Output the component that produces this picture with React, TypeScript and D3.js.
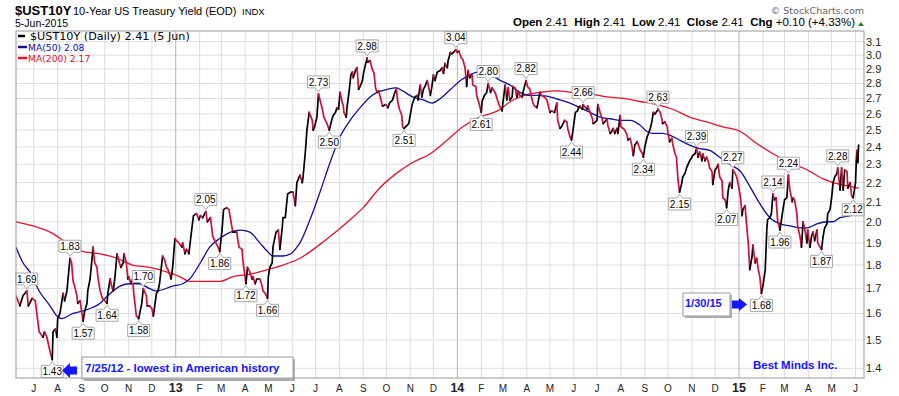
import React from "react";
import * as d3 from "d3";

const W = 899;
const H = 396;
const PL = 16, PT = 31, PR = 864, PB = 378;

// ---------------- data ----------------
const priceSeries: [string, number][] = [
["2012-06-08",1.67],["2012-06-13",1.63],["2012-06-17",1.67],["2012-06-22",1.69],["2012-06-24",1.63],["2012-06-29",1.66],
["2012-07-03",1.65],["2012-07-05",1.60],["2012-07-08",1.53],["2012-07-13",1.51],["2012-07-15",1.53],["2012-07-18",1.51],["2012-07-22",1.46],["2012-07-25",1.43],["2012-07-26",1.53],["2012-07-29",1.54],["2012-07-31",1.51],
["2012-08-01",1.58],["2012-08-04",1.60],["2012-08-08",1.68],["2012-08-10",1.65],["2012-08-13",1.69],["2012-08-17",1.83],["2012-08-19",1.81],["2012-08-21",1.73],["2012-08-23",1.71],["2012-08-26",1.67],["2012-08-27",1.64],["2012-08-30",1.65],
["2012-09-03",1.57],["2012-09-05",1.61],["2012-09-08",1.64],["2012-09-09",1.69],["2012-09-12",1.74],["2012-09-16",1.88],["2012-09-18",1.81],["2012-09-21",1.79],["2012-09-22",1.75],["2012-09-25",1.69],["2012-09-28",1.66],
["2012-10-01",1.65],["2012-10-04",1.64],["2012-10-05",1.68],["2012-10-08",1.74],["2012-10-10",1.71],["2012-10-12",1.69],["2012-10-14",1.74],["2012-10-17",1.85],["2012-10-20",1.81],["2012-10-22",1.79],["2012-10-25",1.81],["2012-10-26",1.85],["2012-10-29",1.81],["2012-10-31",1.74],
["2012-11-01",1.75],["2012-11-04",1.72],["2012-11-06",1.74],["2012-11-08",1.67],["2012-11-11",1.59],["2012-11-14",1.58],["2012-11-18",1.64],["2012-11-20",1.70],["2012-11-24",1.67],["2012-11-25",1.63],["2012-11-28",1.63],
["2012-12-01",1.62],["2012-12-03",1.59],["2012-12-07",1.68],["2012-12-09",1.69],["2012-12-11",1.72],["2012-12-15",1.84],["2012-12-18",1.82],["2012-12-20",1.79],["2012-12-22",1.78],["2012-12-26",1.74],["2012-12-28",1.79],["2012-12-31",1.92],
["2013-01-02",1.91],["2013-01-05",1.90],["2013-01-09",1.88],["2013-01-10",1.90],["2013-01-13",1.85],["2013-01-15",1.87],["2013-01-18",1.85],["2013-01-22",1.97],["2013-01-24",2.03],["2013-01-28",2.04],["2013-01-31",2.01],
["2013-02-02",2.03],["2013-02-05",2.02],["2013-02-09",2.05],["2013-02-11",2.00],["2013-02-15",2.02],["2013-02-18",1.93],["2013-02-22",1.90],["2013-02-25",1.88],["2013-02-27",1.86],
["2013-03-02",1.96],["2013-03-04",2.06],["2013-03-08",2.07],["2013-03-11",2.06],["2013-03-15",1.97],["2013-03-16",1.95],["2013-03-21",1.95],["2013-03-24",1.88],["2013-03-28",1.87],["2013-03-29",1.82],
["2013-04-02",1.72],["2013-04-04",1.79],["2013-04-07",1.77],["2013-04-10",1.74],["2013-04-11",1.75],["2013-04-14",1.72],["2013-04-16",1.74],["2013-04-20",1.74],["2013-04-23",1.71],["2013-04-24",1.69],["2013-04-27",1.68],["2013-04-30",1.66],
["2013-05-01",1.75],["2013-05-03",1.79],["2013-05-06",1.81],["2013-05-07",1.88],["2013-05-11",1.95],["2013-05-14",1.96],["2013-05-16",1.87],["2013-05-19",1.97],["2013-05-20",2.02],["2013-05-23",2.02],["2013-05-26",2.14],["2013-05-30",2.15],
["2013-06-02",2.15],["2013-06-05",2.08],["2013-06-07",2.20],["2013-06-11",2.24],["2013-06-14",2.20],["2013-06-15",2.23],["2013-06-18",2.37],["2013-06-20",2.50],["2013-06-23",2.61],["2013-06-27",2.56],["2013-06-28",2.50],["2013-06-30",2.52],
["2013-07-03",2.58],["2013-07-05",2.73],["2013-07-07",2.69],["2013-07-10",2.63],["2013-07-12",2.58],["2013-07-16",2.54],["2013-07-19",2.50],["2013-07-21",2.54],["2013-07-24",2.59],["2013-07-27",2.61],["2013-07-29",2.64],["2013-07-31",2.63],
["2013-08-02",2.74],["2013-08-05",2.67],["2013-08-06",2.66],["2013-08-07",2.61],["2013-08-10",2.58],["2013-08-11",2.64],["2013-08-14",2.76],["2013-08-16",2.86],["2013-08-18",2.88],["2013-08-19",2.84],["2013-08-22",2.89],["2013-08-24",2.91],["2013-08-26",2.76],["2013-08-28",2.78],["2013-08-31",2.82],
["2013-09-01",2.86],["2013-09-03",2.91],["2013-09-06",2.98],["2013-09-07",2.95],["2013-09-10",2.96],["2013-09-12",2.91],["2013-09-15",2.87],["2013-09-17",2.77],["2013-09-19",2.74],["2013-09-21",2.75],["2013-09-25",2.67],["2013-09-26",2.65],["2013-09-30",2.66],
["2013-10-03",2.64],["2013-10-05",2.67],["2013-10-09",2.69],["2013-10-12",2.74],["2013-10-14",2.76],["2013-10-16",2.67],["2013-10-18",2.63],["2013-10-21",2.59],["2013-10-22",2.52],["2013-10-24",2.51],["2013-10-28",2.53],["2013-10-30",2.54],
["2013-11-03",2.65],["2013-11-04",2.67],["2013-11-07",2.71],["2013-11-10",2.72],["2013-11-11",2.69],["2013-11-14",2.79],["2013-11-16",2.71],["2013-11-18",2.76],["2013-11-20",2.78],["2013-11-23",2.82],["2013-11-27",2.72],["2013-11-29",2.78],
["2013-12-01",2.86],["2013-12-03",2.82],["2013-12-06",2.88],["2013-12-10",2.89],["2013-12-12",2.91],["2013-12-14",2.87],["2013-12-16",2.94],["2013-12-19",2.91],["2013-12-20",2.96],["2013-12-23",3.02],["2013-12-25",3.01],["2013-12-27",3.02],["2013-12-30",3.04],
["2014-01-01",3.02],["2014-01-03",3.03],["2014-01-06",2.98],["2014-01-08",2.97],["2014-01-11",2.91],["2014-01-13",2.78],["2014-01-15",2.89],["2014-01-17",2.84],["2014-01-20",2.86],["2014-01-21",2.79],["2014-01-25",2.78],["2014-01-26",2.72],["2014-01-29",2.67],
["2014-02-01",2.61],["2014-02-02",2.68],["2014-02-05",2.72],["2014-02-08",2.74],["2014-02-10",2.80],["2014-02-13",2.74],["2014-02-15",2.77],["2014-02-19",2.74],["2014-02-22",2.69],["2014-02-24",2.66],["2014-02-28",2.62],
["2014-03-01",2.67],["2014-03-04",2.79],["2014-03-06",2.69],["2014-03-08",2.77],["2014-03-10",2.69],["2014-03-13",2.71],["2014-03-14",2.78],["2014-03-17",2.77],["2014-03-19",2.71],["2014-03-21",2.74],["2014-03-23",2.72],["2014-03-26",2.71],["2014-03-27",2.74],["2014-03-31",2.82],
["2014-04-02",2.78],["2014-04-05",2.76],["2014-04-07",2.71],["2014-04-09",2.67],["2014-04-11",2.65],["2014-04-14",2.64],["2014-04-15",2.66],["2014-04-18",2.74],["2014-04-20",2.72],["2014-04-24",2.71],["2014-04-27",2.69],
["2014-05-01",2.61],["2014-05-03",2.62],["2014-05-07",2.61],["2014-05-10",2.67],["2014-05-11",2.56],["2014-05-14",2.51],["2014-05-16",2.52],["2014-05-18",2.54],["2014-05-20",2.56],["2014-05-23",2.55],["2014-05-24",2.51],["2014-05-27",2.46],["2014-05-29",2.44],
["2014-06-01",2.54],["2014-06-03",2.61],["2014-06-06",2.62],["2014-06-07",2.64],["2014-06-09",2.65],["2014-06-12",2.63],["2014-06-13",2.66],["2014-06-16",2.64],["2014-06-18",2.63],["2014-06-19",2.65],["2014-06-22",2.61],["2014-06-25",2.57],["2014-06-26",2.54],["2014-06-29",2.55],
["2014-07-01",2.56],["2014-07-02",2.66],["2014-07-05",2.61],["2014-07-07",2.58],["2014-07-09",2.54],["2014-07-11",2.55],["2014-07-14",2.57],["2014-07-15",2.53],["2014-07-18",2.48],["2014-07-20",2.49],["2014-07-22",2.51],["2014-07-24",2.48],["2014-07-27",2.51],["2014-07-28",2.48],["2014-07-31",2.59],
["2014-08-01",2.52],["2014-08-04",2.51],["2014-08-06",2.50],["2014-08-09",2.47],["2014-08-10",2.44],["2014-08-13",2.45],["2014-08-15",2.41],["2014-08-17",2.35],["2014-08-19",2.41],["2014-08-22",2.43],["2014-08-23",2.42],["2014-08-26",2.38],["2014-08-29",2.36],["2014-08-30",2.34],
["2014-09-01",2.40],["2014-09-04",2.46],["2014-09-05",2.47],["2014-09-08",2.51],["2014-09-10",2.55],["2014-09-12",2.61],["2014-09-14",2.60],["2014-09-17",2.62],["2014-09-18",2.63],["2014-09-21",2.61],["2014-09-23",2.57],["2014-09-24",2.54],["2014-09-27",2.55],["2014-09-30",2.52],
["2014-10-01",2.48],["2014-10-03",2.43],["2014-10-06",2.45],["2014-10-07",2.42],["2014-10-10",2.36],["2014-10-12",2.34],["2014-10-14",2.21],["2014-10-16",2.15],["2014-10-19",2.20],["2014-10-20",2.23],["2014-10-23",2.25],["2014-10-25",2.28],["2014-10-27",2.30],["2014-10-29",2.32],
["2014-11-01",2.34],["2014-11-02",2.35],["2014-11-05",2.36],["2014-11-07",2.39],["2014-11-09",2.34],["2014-11-11",2.37],["2014-11-14",2.32],["2014-11-15",2.36],["2014-11-18",2.32],["2014-11-20",2.34],["2014-11-22",2.32],["2014-11-24",2.28],["2014-11-27",2.26],["2014-11-28",2.19],
["2014-12-01",2.27],["2014-12-03",2.28],["2014-12-05",2.30],["2014-12-07",2.23],["2014-12-10",2.21],["2014-12-11",2.12],["2014-12-14",2.11],["2014-12-16",2.07],["2014-12-18",2.16],["2014-12-20",2.20],["2014-12-23",2.17],["2014-12-24",2.27],["2014-12-27",2.25],["2014-12-29",2.23],
["2015-01-01",2.17],["2015-01-03",2.12],["2015-01-05",2.03],["2015-01-06",2.06],["2015-01-09",2.08],["2015-01-10",2.02],["2015-01-13",1.90],["2015-01-15",1.78],["2015-01-18",1.84],["2015-01-19",1.89],["2015-01-22",1.81],["2015-01-24",1.83],["2015-01-26",1.78],["2015-01-28",1.75],["2015-01-30",1.68],
["2015-02-01",1.71],["2015-02-04",1.78],["2015-02-06",1.96],["2015-02-07",2.01],["2015-02-10",2.02],["2015-02-12",2.04],["2015-02-14",2.14],["2015-02-16",2.11],["2015-02-18",2.12],["2015-02-20",2.01],["2015-02-23",1.96],["2015-02-25",2.01],["2015-02-27",2.06],
["2015-03-01",2.11],["2015-03-04",2.12],["2015-03-06",2.24],["2015-03-08",2.16],["2015-03-11",2.10],["2015-03-12",2.12],["2015-03-14",2.11],["2015-03-17",2.04],["2015-03-18",1.98],["2015-03-21",1.93],["2015-03-23",1.88],["2015-03-25",2.00],["2015-03-27",1.97],["2015-03-30",1.90],["2015-03-31",1.96],
["2015-04-03",1.88],["2015-04-05",1.93],["2015-04-07",1.95],["2015-04-09",1.91],["2015-04-12",1.96],["2015-04-13",1.90],["2015-04-16",1.88],["2015-04-18",1.87],["2015-04-20",1.93],["2015-04-22",1.97],["2015-04-25",1.99],["2015-04-26",2.04],["2015-04-29",2.06],
["2015-05-01",2.12],["2015-05-03",2.20],["2015-05-05",2.23],["2015-05-08",2.25],["2015-05-09",2.28],["2015-05-12",2.16],["2015-05-14",2.28],["2015-05-16",2.16],["2015-05-18",2.27],["2015-05-21",2.26],["2015-05-22",2.17],["2015-05-25",2.20],["2015-05-27",2.13],["2015-05-29",2.12],
["2015-06-01",2.20],["2015-06-02",2.32],["2015-06-03",2.38],["2015-06-04",2.31],["2015-06-05",2.41]
];

const ma50Series: [string, number][] = [
["2012-06-08",1.88],["2012-06-17",1.81],["2012-06-26",1.77],["2012-07-08",1.69],["2012-07-22",1.63],["2012-07-31",1.59],["2012-08-06",1.58],["2012-08-21",1.60],["2012-09-03",1.61],["2012-09-25",1.64],["2012-10-08",1.68],["2012-10-21",1.71],["2012-11-02",1.72],["2012-11-15",1.72],["2012-11-28",1.70],["2012-12-07",1.69],["2012-12-28",1.71],["2013-01-10",1.72],["2013-01-19",1.74],["2013-02-02",1.81],["2013-02-14",1.88],["2013-02-27",1.92],["2013-03-13",1.95],["2013-03-26",1.96],["2013-04-07",1.95],["2013-04-20",1.90],["2013-04-30",1.86],["2013-05-07",1.84],["2013-05-20",1.84],["2013-05-30",1.85],["2013-06-07",1.88],["2013-06-11",1.90],["2013-06-24",2.01],["2013-07-07",2.15],["2013-07-20",2.31],["2013-08-02",2.46],["2013-08-15",2.56],["2013-08-28",2.64],["2013-09-10",2.71],["2013-09-19",2.74],["2013-10-02",2.76],["2013-10-14",2.77],["2013-10-22",2.75],["2013-11-04",2.71],["2013-11-18",2.69],["2013-11-29",2.67],["2013-12-10",2.70],["2013-12-23",2.76],["2014-01-05",2.82],["2014-01-17",2.86],["2014-01-30",2.88],["2014-02-13",2.86],["2014-02-26",2.82],["2014-03-10",2.79],["2014-03-23",2.74],["2014-04-05",2.72],["2014-04-18",2.72],["2014-05-01",2.71],["2014-05-14",2.69],["2014-05-27",2.67],["2014-06-09",2.64],["2014-06-22",2.61],["2014-07-05",2.58],["2014-07-18",2.57],["2014-07-31",2.56],["2014-08-13",2.56],["2014-08-26",2.53],["2014-09-04",2.49],["2014-09-12",2.48],["2014-09-24",2.48],["2014-10-03",2.47],["2014-10-16",2.44],["2014-10-29",2.41],["2014-11-11",2.39],["2014-11-24",2.38],["2014-12-07",2.34],["2014-12-20",2.30],["2015-01-03",2.26],["2015-01-15",2.18],["2015-01-28",2.09],["2015-02-10",2.02],["2015-02-23",1.99],["2015-03-08",1.98],["2015-03-21",1.97],["2015-03-30",1.97],["2015-04-12",1.99],["2015-04-25",2.00],["2015-05-03",2.00],["2015-05-12",2.02],["2015-05-25",2.03],["2015-06-05",2.05]
];

const ma200Series: [string, number][] = [
["2012-06-08",2.00],["2012-06-30",1.98],["2012-07-22",1.95],["2012-08-13",1.90],["2012-09-03",1.86],["2012-09-25",1.85],["2012-10-17",1.83],["2012-11-06",1.80],["2012-11-28",1.79],["2012-12-20",1.77],["2013-01-06",1.75],["2013-01-19",1.73],["2013-02-10",1.73],["2013-02-27",1.73],["2013-03-16",1.75],["2013-04-07",1.76],["2013-04-30",1.78],["2013-05-20",1.80],["2013-06-11",1.83],["2013-07-13",1.91],["2013-08-15",2.01],["2013-09-01",2.07],["2013-09-22",2.17],["2013-10-14",2.25],["2013-11-04",2.31],["2013-11-27",2.36],["2013-12-19",2.44],["2014-01-08",2.52],["2014-01-30",2.58],["2014-02-22",2.62],["2014-03-14",2.69],["2014-04-05",2.73],["2014-04-18",2.74],["2014-05-10",2.75],["2014-05-31",2.74],["2014-06-22",2.73],["2014-07-14",2.71],["2014-08-04",2.70],["2014-08-26",2.68],["2014-09-17",2.66],["2014-10-07",2.63],["2014-10-29",2.58],["2014-11-20",2.55],["2014-12-11",2.52],["2015-01-03",2.49],["2015-01-24",2.42],["2015-02-14",2.36],["2015-03-08",2.31],["2015-03-30",2.27],["2015-04-20",2.22],["2015-05-12",2.19],["2015-05-25",2.18],["2015-06-05",2.17]
];

// peak / trough labels: [date, value, placement]
const pointLabels: [string, number, "up" | "down"][] = [
["2012-06-22",1.69,"up"],["2012-07-25",1.43,"down"],["2012-08-17",1.83,"up"],["2012-09-03",1.57,"down"],["2012-10-04",1.64,"down"],["2012-11-14",1.58,"down"],["2012-11-20",1.70,"up"],["2013-02-09",2.05,"up"],["2013-02-27",1.86,"down"],["2013-04-02",1.72,"down"],["2013-04-30",1.66,"down"],["2013-07-05",2.73,"up"],["2013-07-19",2.50,"down"],["2013-09-06",2.98,"up"],["2013-10-24",2.51,"down"],["2013-12-30",3.04,"up"],["2014-02-01",2.61,"down"],["2014-02-10",2.80,"up"],["2014-03-31",2.82,"up"],["2014-05-29",2.44,"down"],["2014-06-13",2.66,"up"],["2014-08-30",2.34,"down"],["2014-09-18",2.63,"up"],["2014-10-16",2.15,"down"],["2014-11-07",2.39,"up"],["2014-12-16",2.07,"down"],["2014-12-24",2.27,"up"],["2015-01-30",1.68,"down"],["2015-02-14",2.14,"up"],["2015-02-23",1.96,"down"],["2015-03-06",2.24,"up"],["2015-04-18",1.87,"down"],["2015-05-09",2.28,"up"],["2015-05-29",2.12,"down"]
];

const yTicks = [1.4, 1.5, 1.6, 1.7, 1.8, 1.9, 2.0, 2.1, 2.2, 2.3, 2.4, 2.5, 2.6, 2.7, 2.8, 2.9, 3.0, 3.1];
const monthLetters = ["J", "F", "M", "A", "M", "J", "J", "A", "S", "O", "N", "D"];
const headerLabels = ["Open", "High", "Low", "Close", "Chg"];
const headerValues = ["2.41", "2.41", "2.41", "2.41", "+0.10 (+4.33%)"];
const legendItems = [
  { text: "$UST10Y (Daily) 2.41 (5 Jun)", color: "#000000" },
  { text: "MA(50) 2.08", color: "#10109a" },
  { text: "MA(200) 2.17", color: "#d81432" },
];

const BLUE = "#1414ff";
const DOWN_RED = "#d0103a";
const MA50_COLOR = "#10109a";
const MA200_COLOR = "#e0162e";
const SANS = "'Liberation Sans', Arial, sans-serif";
const VERD = "'DejaVu Sans', Verdana, sans-serif";

const parse = d3.timeParse("%Y-%m-%d");

export default function App() {
  const x = d3.scaleTime().domain([new Date(2012, 5, 8), new Date(2015, 5, 12)]).range([PL, PR]);
  const y = d3.scaleLog().domain([1.4, 3.1]).range([368.3, 41.7]);

  type P = { date: Date; v: number };
  const toPts = (s: [string, number][]): P[] => s.map(([d, v]) => ({ date: parse(d) as Date, v }));
  const price = toPts(priceSeries);
  const ma50 = toPts(ma50Series);
  const ma200 = toPts(ma200Series);

  // split price into runs of up / down moves
  const runs: { up: boolean; pts: P[] }[] = [];
  let cur: P[] = [price[0]];
  let dir: boolean | null = null;
  for (let i = 1; i < price.length; i++) {
    const up = price[i].v >= price[i - 1].v;
    if (dir === null || up === dir) {
      cur.push(price[i]);
      dir = up;
    } else {
      runs.push({ up: dir, pts: cur });
      cur = [price[i - 1], price[i]];
      dir = up;
    }
  }
  runs.push({ up: dir as boolean, pts: cur });

  const line = d3.line<P>().x((d) => x(d.date)).y((d) => y(d.v));
  const maLine = d3.line<P>().x((d) => x(d.date)).y((d) => y(d.v)).curve(d3.curveMonotoneX);

  const months = d3.timeMonth.range(new Date(2012, 6, 1), new Date(2015, 5, 2));

  return (
    <div style={{ position: "absolute", left: 0, top: 0 }}>
      <svg width={W} height={H} viewBox={`0 0 ${W} ${H}`} style={{ display: "block", background: "#fff" }}>
        <defs>
          <clipPath id="plotClip">
            <rect x={PL} y={PT} width={PR - PL} height={PB - PT} />
          </clipPath>
        </defs>
        <rect x={0} y={0} width={W} height={H} fill="#fff" />

        {/* header */}
        <text x={15} y={15} fontFamily={SANS} fontSize={13} fontWeight="bold" fill="#000">$UST10Y</text>
        <text x={73} y={15} fontFamily={SANS} fontSize={11} fill="#000">10-Year US Treasury Yield (EOD)</text>
        <text x={242} y={15} fontFamily={SANS} fontSize={9.5} fill="#000">INDX</text>
        <text x={15} y={27} fontFamily={SANS} fontSize={10.5} fill="#000">5-Jun-2015</text>
        <text x={864} y={14} textAnchor="end" fontFamily={VERD} fontSize={9.5} fill="#666">© StockCharts.com</text>
        <text x={855} y={26} textAnchor="end" fontFamily={SANS} fontSize={11.5} fill="#000" xmlSpace="preserve" style={{ whiteSpace: "pre" }}>
          {headerLabels.map((l, i) => (
            <React.Fragment key={l}>
              <tspan fontWeight="bold">{l}</tspan>
              <tspan>{" " + headerValues[i] + (i < headerLabels.length - 1 ? "  " : "")}</tspan>
            </React.Fragment>
          ))}
        </text>
        <path d="M858,26 L861,22 L864,26 Z" fill="#2a7a2a" />

        {/* grid */}
        {yTicks.map((t) => (
          <line key={"gy" + t} x1={PL} x2={PR} y1={y(t)} y2={y(t)} stroke="#dedede" strokeWidth={1} />
        ))}
        {months.map((m) => (
          <line key={"gx" + m.getTime()} x1={x(m)} x2={x(m)} y1={PT} y2={PB}
            stroke={m.getMonth() === 0 ? "#b4b4b4" : "#dedede"} strokeWidth={1} />
        ))}

        {/* lines */}
        <g clipPath="url(#plotClip)">
          <path d={maLine(ma200) || ""} fill="none" stroke={MA200_COLOR} strokeWidth={1.3} />
          <path d={maLine(ma50) || ""} fill="none" stroke={MA50_COLOR} strokeWidth={1.3} />
          {runs.map((r, i) => (
            <path key={"r" + i} d={line(r.pts) || ""} fill="none" stroke={r.up ? "#000" : DOWN_RED}
              strokeWidth={1.7} strokeLinejoin="round" strokeLinecap="round" />
          ))}
        </g>

        {/* legend */}
        {legendItems.map((it, i) => (
          <g key={"lg" + i}>
            <line x1={18} x2={i === 0 ? 25 : 27} y1={36 + i * 11} y2={36 + i * 11} stroke={it.color} strokeWidth={2.5} />
            <text x={i === 0 ? 30 : 28} y={40 + i * 11} fontFamily={VERD} fontSize={i === 0 ? 11.2 : 9.2} fill={it.color}>{it.text}</text>
          </g>
        ))}

        {/* point labels */}
        {pointLabels.map(([d, v, pos], i) => {
          const px = x(parse(d) as Date);
          const py = y(v);
          const w = 22, h = 12;
          const cy = pos === "up" ? py - 12 : py + 12;
          const top = cy - h / 2, bot = cy + h / 2, l = px - w / 2, r = px + w / 2;
          const p = pos === "up"
            ? `M${l},${top} H${r} V${bot} H${px + 3} L${px},${py - 2} L${px - 3},${bot} H${l} Z`
            : `M${l},${bot} H${r} V${top} H${px + 3} L${px},${py + 2} L${px - 3},${top} H${l} Z`;
          return (
            <g key={"pl" + i}>
              <path d={p} fill="#fff" stroke="#a8a8a8" strokeWidth={1} />
              <text x={px} y={cy + 3.6} textAnchor="middle" fontFamily={SANS} fontSize={10} fill="#000">{v.toFixed(2)}</text>
            </g>
          );
        })}

        {/* annotation 1 */}
        <rect x={84} y={359} width={211} height={22} fill="#b0b0b0" />
        <rect x={82} y={357} width={211} height={22} fill="#fff" stroke="#9a9a9a" />
        <text x={85} y={372} fontFamily={SANS} fontSize={11.5} fontWeight="bold" fill={BLUE}>7/25/12 - lowest in American history</text>
        <path d="M62,370.5 L70,363 V366.5 H77 V374.5 H70 V378 Z" fill={BLUE} />

        {/* annotation 2 */}
        <rect x={685} y={295} width={47} height={23} fill="#b0b0b0" />
        <rect x={683} y={293} width={47} height={23} fill="#fff" stroke="#9a9a9a" />
        <text x={685} y={307} fontFamily={SANS} fontSize={11} fontWeight="bold" fill={BLUE}>1/30/15</text>
        <path d="M747,304.5 L739,298 V300.5 H732 V308.5 H739 V311 Z" fill={BLUE} />

        <text x={753} y={369} fontFamily={SANS} fontSize={11.5} fontWeight="bold" fill={BLUE}>Best Minds Inc.</text>

        {/* y axis labels */}
        {yTicks.map((t) => (
          <text key={"yl" + t} x={866} y={y(t)} dy="0.36em" fontFamily={SANS} fontSize={11} fill="#222">{t.toFixed(1)}</text>
        ))}

        {/* x axis labels */}
        {months.map((m) => {
          const isYear = m.getMonth() === 0;
          return (
            <text key={"xl" + m.getTime()} x={x(m)} y={392} textAnchor="middle" fontFamily={SANS}
              fontSize={isYear ? 12.5 : 10} fontWeight={isYear ? "bold" : "normal"} fill="#222">
              {isYear ? d3.timeFormat("%y")(m) : monthLetters[m.getMonth()]}
            </text>
          );
        })}

        {/* frame */}
        <rect x={PL} y={PT} width={PR - PL} height={PB - PT} fill="none" stroke="#9a9a9a" strokeWidth={1} />
      </svg>
    </div>
  );
}
